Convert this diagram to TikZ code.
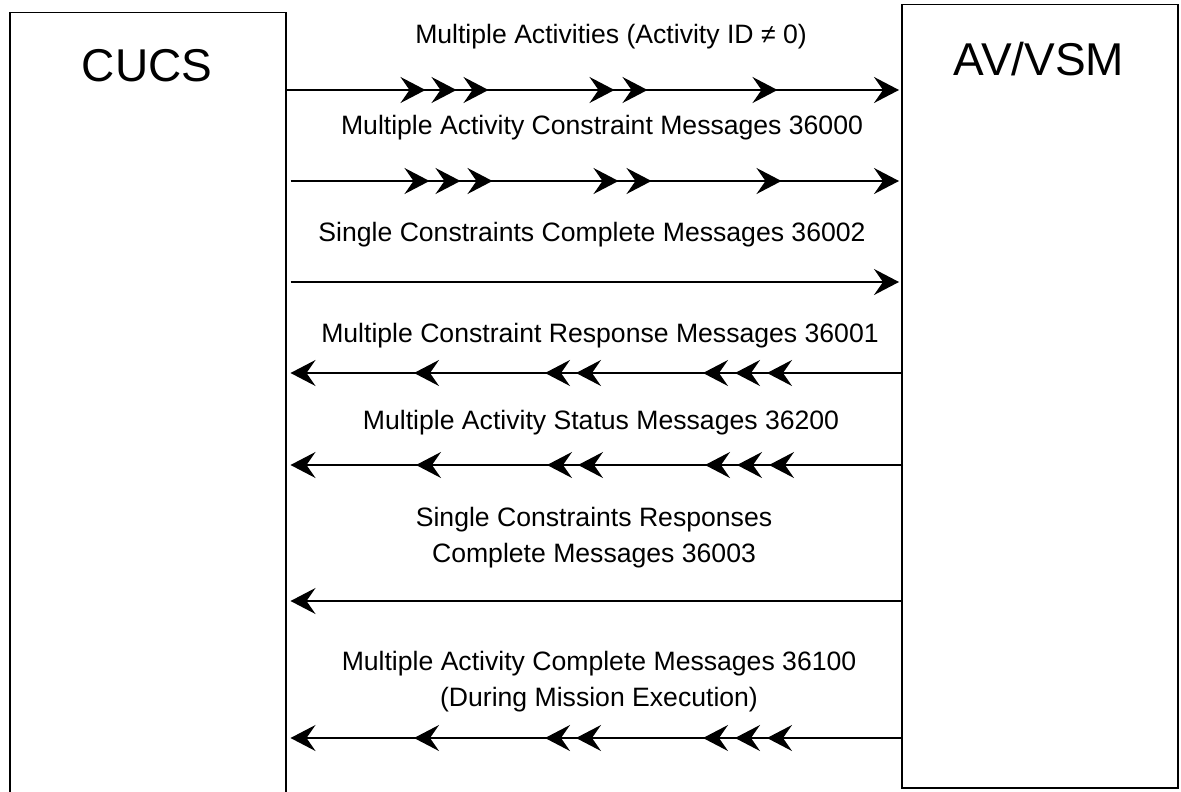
\documentclass[tikz,border=0pt]{standalone}
\usepackage{fontspec}
\setmainfont{Liberation Sans}
\usetikzlibrary{arrows.meta,decorations.markings}

\tikzset{
  >={Stealth[length=25pt,width=26pt,inset=9pt]},
  box/.style={draw, line width=1.5pt, rectangle, inner sep=0pt, anchor=north west},
  title/.style={font=\fontsize{46}{52}\selectfont},
  lbl/.style={font=\fontsize{26.6}{36}\selectfont, align=center},
  % message towards the vehicle side, repeated heads along the line
  fwd/.style={line width=1.5pt, ->,
    decoration={markings,
      mark=at position 139pt with {\arrow{>}},
      mark=at position 170pt with {\arrow{>}},
      mark=at position 202pt with {\arrow{>}},
      mark=at position 328pt with {\arrow{>}},
      mark=at position 361pt with {\arrow{>}},
      mark=at position 491pt with {\arrow{>}}},
    postaction={decorate}},
  % message back towards the control station
  bwd/.style={line width=1.5pt, ->,
    decoration={markings,
      mark=at position 134pt with {\arrow{>}},
      mark=at position 166pt with {\arrow{>}},
      mark=at position 198pt with {\arrow{>}},
      mark=at position 325pt with {\arrow{>}},
      mark=at position 356pt with {\arrow{>}},
      mark=at position 487pt with {\arrow{>}}},
    postaction={decorate}},
  single/.style={line width=1.5pt, ->}
}

\begin{document}
\begin{tikzpicture}[x=1pt, y=-1pt]
  \useasboundingbox[fill=white] (0,0) rectangle (1181,792);

  % the two parties
  \node[box, minimum width=276pt, minimum height=900pt] (cucs) at (9,12) {};
  \node[box, minimum width=276pt, minimum height=783pt] (avvsm) at (901,4) {};
  \node[title] (cucsT) at (147,66) {CUCS};
  \node[title] (avvsmT) at (1039,59) {AV/VSM};

  % rows of the message exchange
  \coordinate (r1) at (0,90);
  \coordinate (r2) at (0,181);
  \coordinate (r3) at (0,282);
  \coordinate (r4) at (0,373);
  \coordinate (r5) at (0,465);
  \coordinate (r6) at (0,601);
  \coordinate (r7) at (0,738);

  \node[lbl] (l1) at (611,37) {Multiple Activities (Activity ID ≠ 0)};
  \draw[fwd] (cucs.east |- r1) -- ([xshift=-2pt]avvsm.west |- r1);

  \node[lbl] (l2) at (602,128) {Multiple Activity Constraint Messages 36000};
  \draw[fwd] ([xshift=4pt]cucs.east |- r2) -- ([xshift=-2pt]avvsm.west |- r2);

  \node[lbl] (l3) at (592,235) {Single Constraints Complete Messages 36002};
  \draw[single] ([xshift=4pt]cucs.east |- r3) -- ([xshift=-2pt]avvsm.west |- r3);

  \node[lbl] (l4) at (600,336) {Multiple Constraint Response Messages 36001};
  \draw[bwd] (avvsm.west |- r4) -- ([xshift=4pt]cucs.east |- r4);

  \node[lbl] (l5) at (601,423) {Multiple Activity Status Messages 36200};
  \draw[bwd] ([xshift=2pt]avvsm.west |- r5) -- ([xshift=4pt]cucs.east |- r5);

  \node[lbl] (l6) at (594,538) {Single Constraints Responses\\Complete Messages 36003};
  \draw[single] (avvsm.west |- r6) -- ([xshift=4pt]cucs.east |- r6);

  \node[lbl] (l7) at (599,682) {Multiple Activity Complete Messages 36100\\(During Mission Execution)};
  \draw[bwd] (avvsm.west |- r7) -- ([xshift=4pt]cucs.east |- r7);
\end{tikzpicture}
\end{document}
